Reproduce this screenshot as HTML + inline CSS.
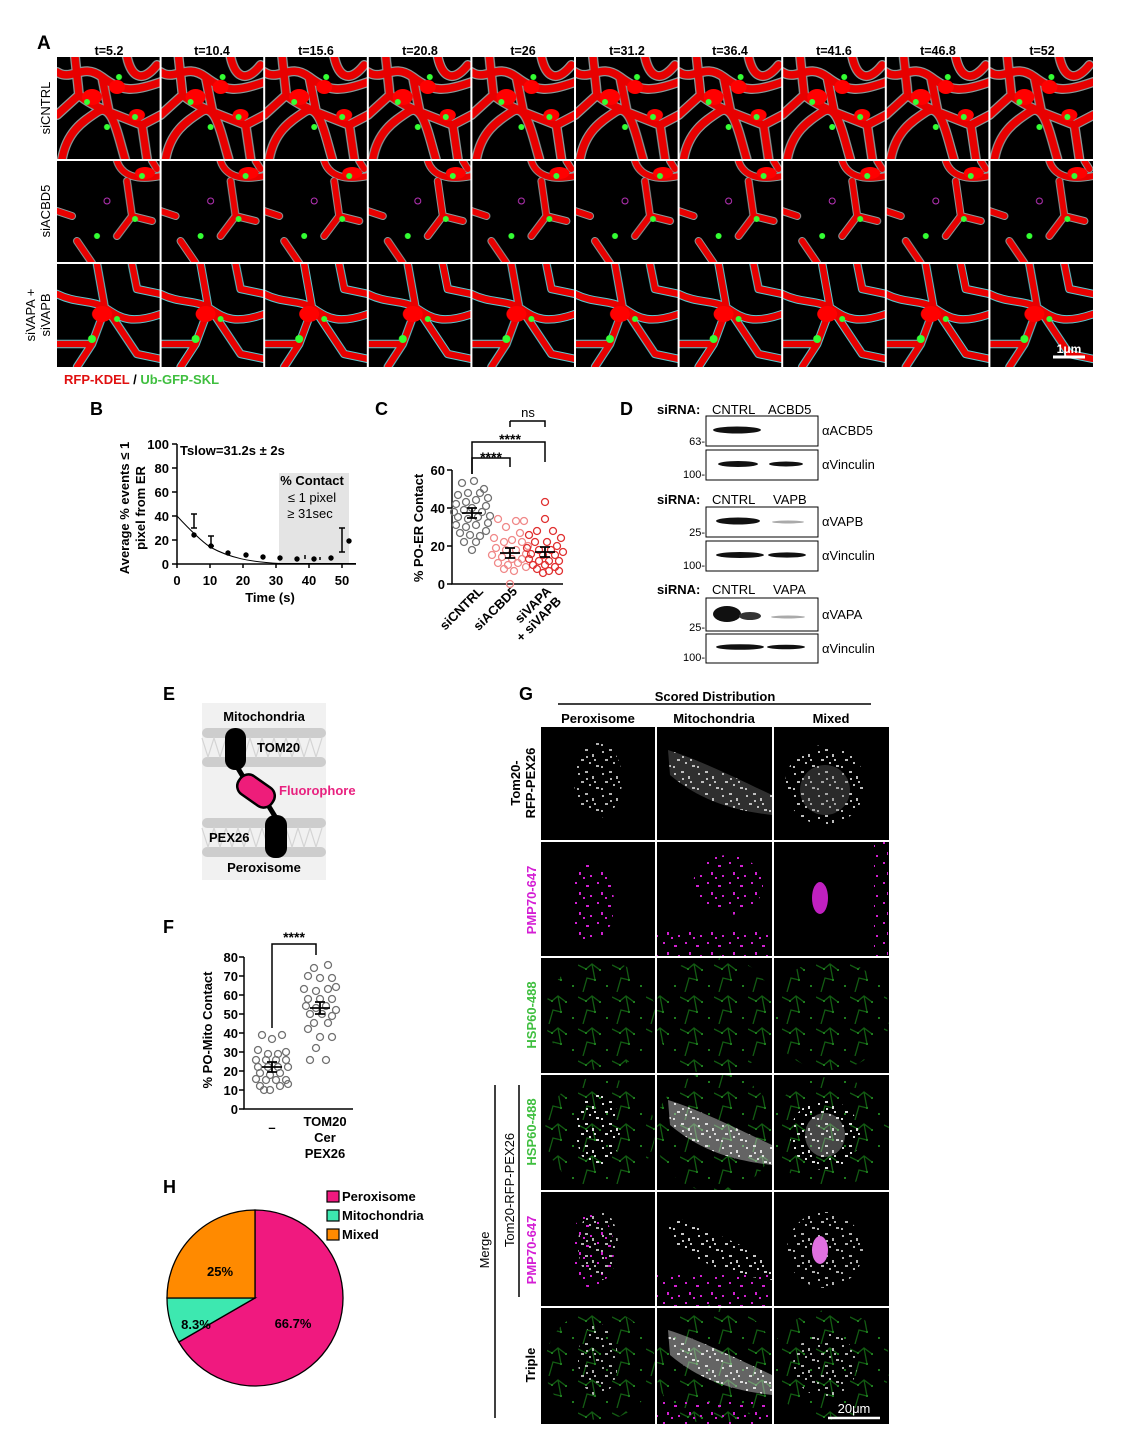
<!DOCTYPE html>
<html><head><meta charset="utf-8"><style>
html,body{margin:0;padding:0;background:#fff}
svg{display:block}
text{font-family:"Liberation Sans",Arial,sans-serif}
.b{font-weight:bold}
</style></head><body>
<svg width="1133" height="1444" viewBox="0 0 1133 1444" xmlns="http://www.w3.org/2000/svg">
<defs>
<pattern id="a1" patternUnits="userSpaceOnUse" x="57" y="57" width="103.6" height="102">
<rect width="104" height="102" fill="#000"/>
<g fill="none" stroke-linecap="round" stroke-linejoin="round">
<path stroke="#8a9a9a" stroke-width="10" d="M0,15 C15,25 25,5 45,20 S75,35 104,25 M5,102 C10,75 25,65 40,55 S60,75 68,102 M45,20 L52,55 L85,68 L104,58 M18,0 L22,38 L0,58 M70,0 C74,18 84,28 100,8 M22,38 C30,45 40,50 52,55 M85,68 L90,102"/>
<path stroke="#e80000" stroke-width="7.5" d="M0,15 C15,25 25,5 45,20 S75,35 104,25 M5,102 C10,75 25,65 40,55 S60,75 68,102 M45,20 L52,55 L85,68 L104,58 M18,0 L22,38 L0,58 M70,0 C74,18 84,28 100,8 M22,38 C30,45 40,50 52,55 M85,68 L90,102"/>
</g>
<g fill="#f00"><ellipse cx="35" cy="40" rx="10" ry="8"/><ellipse cx="60" cy="30" rx="8" ry="7"/><ellipse cx="80" cy="58" rx="8" ry="6"/></g>
<g fill="#3f3"><circle cx="30" cy="45" r="3"/><circle cx="62" cy="20" r="3"/><circle cx="78" cy="60" r="3"/><circle cx="50" cy="70" r="3"/></g>
</pattern>
<pattern id="a2" patternUnits="userSpaceOnUse" x="57" y="161" width="103.6" height="102">
<rect width="104" height="102" fill="#000"/>
<g fill="none" stroke-linecap="round" stroke-linejoin="round">
<path stroke="#8a9a9a" stroke-width="8" d="M60,0 C65,15 80,20 104,15 M70,20 L75,55 L60,75 M0,50 L15,55 M75,55 L95,60 M20,80 L35,102 M95,0 L100,8"/>
<path stroke="#e80000" stroke-width="6" d="M60,0 C65,15 80,20 104,15 M70,20 L75,55 L60,75 M0,50 L15,55 M75,55 L95,60 M20,80 L35,102 M95,0 L100,8"/>
</g>
<ellipse cx="88" cy="12" rx="10" ry="6" fill="#f00"/>
<g fill="#3f3"><circle cx="78" cy="58" r="3"/><circle cx="40" cy="75" r="3"/><circle cx="85" cy="15" r="3"/></g>
<circle cx="50" cy="40" r="3" fill="none" stroke="#b3b"/>
</pattern>
<pattern id="a3" patternUnits="userSpaceOnUse" x="57" y="264" width="103.6" height="103">
<rect width="104" height="103" fill="#000"/>
<g fill="none" stroke-linecap="round" stroke-linejoin="round">
<path stroke="#5cc8d0" stroke-width="8.5" d="M0,30 C20,40 35,35 50,45 S75,60 104,50 M40,0 L48,45 L35,80 L20,103 M50,45 L80,90 L104,95 M0,80 L35,80 M75,0 L80,25 L104,30"/>
<path stroke="#e80000" stroke-width="6.5" d="M0,30 C20,40 35,35 50,45 S75,60 104,50 M40,0 L48,45 L35,80 L20,103 M50,45 L80,90 L104,95 M0,80 L35,80 M75,0 L80,25 L104,30"/>
</g>
<ellipse cx="45" cy="50" rx="10" ry="8" fill="#f00"/>
<g fill="#3f3"><circle cx="35" cy="75" r="4"/><circle cx="60" cy="55" r="3"/></g>
</pattern>
<pattern id="pw" patternUnits="userSpaceOnUse" width="24" height="22">
<g fill="#ddd"><rect x="2" y="3" width="2" height="2"/><rect x="9" y="1" width="3" height="2"/><rect x="16" y="6" width="2" height="3"/><rect x="5" y="11" width="3" height="2"/><rect x="13" y="14" width="2" height="2"/><rect x="20" y="17" width="3" height="2"/><rect x="1" y="18" width="2" height="2"/><rect x="18" y="11" width="2" height="2"/><rect x="10" y="8" width="2" height="2"/></g>
</pattern>
<pattern id="pm" patternUnits="userSpaceOnUse" width="22" height="20">
<g fill="#d020d0"><rect x="3" y="2" width="2" height="2"/><rect x="14" y="5" width="3" height="2"/><rect x="7" y="12" width="2" height="3"/><rect x="18" y="15" width="2" height="2"/><rect x="11" y="17" width="2" height="2"/></g>
</pattern>
<pattern id="pg" patternUnits="userSpaceOnUse" width="34" height="32">
<path d="M0,5 L8,9 L14,4 L22,10 M5,32 L9,18 L17,20 M14,4 L17,20" stroke="#1f9a1f" stroke-width="1.3" fill="none"/>
<g fill="#3c3"><rect x="7" y="8" width="2" height="2"/><rect x="21" y="9" width="2" height="2"/><rect x="16" y="19" width="2" height="2"/><rect x="28" y="25" width="2" height="2"/></g>
</pattern>
<clipPath id="gc"><rect x="541" y="727" width="348" height="697"/></clipPath>
</defs>

<!-- Panel A -->
<text x="37" y="49" font-size="19" class="b">A</text>
<g font-size="12.5" class="b" text-anchor="middle">
<text x="109" y="55">t=5.2</text><text x="212" y="55">t=10.4</text><text x="316" y="55">t=15.6</text><text x="420" y="55">t=20.8</text><text x="523" y="55">t=26</text><text x="627" y="55">t=31.2</text><text x="730" y="55">t=36.4</text><text x="834" y="55">t=41.6</text><text x="938" y="55">t=46.8</text><text x="1042" y="55">t=52</text>
</g>
<rect x="57" y="57" width="1036" height="103" fill="url(#a1)"/>
<rect x="57" y="160" width="1036" height="103" fill="url(#a2)"/>
<rect x="57" y="263" width="1036" height="104" fill="url(#a3)"/>
<g stroke="#fff" stroke-width="2">
<path d="M160.6,57V367M264.2,57V367M367.8,57V367M471.4,57V367M575,57V367M678.6,57V367M782.2,57V367M885.8,57V367M989.4,57V367"/>
<path d="M57,160H1093M57,263H1093"/>
</g>
<g font-size="13" text-anchor="middle">
<text transform="translate(50,108) rotate(-90)">siCNTRL</text>
<text transform="translate(50,211) rotate(-90)">siACBD5</text>
<text transform="translate(35,315) rotate(-90)">siVAPA +</text>
<text transform="translate(50,315) rotate(-90)">siVAPB</text>
</g>
<path d="M1053,357H1085" stroke="#fff" stroke-width="3"/>
<text x="1069" y="353" font-size="12" fill="#fff" text-anchor="middle" class="b">1μm</text>
<text x="64" y="384" font-size="13" class="b"><tspan fill="#e01010">RFP-KDEL</tspan><tspan fill="#000"> / </tspan><tspan fill="#3fbf3f">Ub-GFP-SKL</tspan></text>

<!-- Panel B -->
<text x="90" y="415" font-size="18" class="b">B</text>
<rect x="279" y="473" width="70" height="91" fill="#e4e4e4"/>
<g stroke="#000" stroke-width="1.5" fill="none">
<path d="M177,444V564H356"/>
<path d="M172,444H177M172,468H177M172,492H177M172,516H177M172,540H177M172,564H177"/>
<path d="M177,564v4M210,564v4M243,564v4M276,564v4M309,564v4M342,564v4"/>
<path d="M177,516 C190,530 200,540 210,547 C230,558 250,562 280,563.5 L356,563.5" stroke-width="1"/>
<path d="M194,528v-14M191,528h6M191,514h6 M211,546v-10M208,546h6M208,536h6 M228,555v-4M246,557v-4M305,559v-4M320,560v-3M342,552v-24M339,552h6M339,528h6"/>
</g>
<g fill="#000"><circle cx="194" cy="535" r="2.7"/><circle cx="211" cy="546" r="2.7"/><circle cx="228" cy="553" r="2.7"/><circle cx="246" cy="555" r="2.7"/><circle cx="263" cy="557" r="2.7"/><circle cx="280" cy="558" r="2.7"/><circle cx="297" cy="559" r="2.7"/><circle cx="314" cy="559" r="2.7"/><circle cx="331" cy="558" r="2.7"/><circle cx="349" cy="541" r="2.7"/></g>
<g font-size="13" class="b" text-anchor="end">
<text x="169" y="449">100</text><text x="169" y="473">80</text><text x="169" y="497">60</text><text x="169" y="521">40</text><text x="169" y="545">20</text><text x="169" y="569">0</text>
</g>
<g font-size="13" class="b" text-anchor="middle">
<text x="177" y="585">0</text><text x="210" y="585">10</text><text x="243" y="585">20</text><text x="276" y="585">30</text><text x="309" y="585">40</text><text x="342" y="585">50</text>
<text x="270" y="602">Time (s)</text>
<text transform="translate(129,508) rotate(-90)">Average % events ≤ 1</text>
<text transform="translate(145,508) rotate(-90)">pixel from ER</text>
</g>
<text x="180" y="455" font-size="13" class="b">Tslow=31.2s ± 2s</text>
<text x="312" y="485" font-size="13" class="b" text-anchor="middle">% Contact</text>
<text x="312" y="502" font-size="13" text-anchor="middle">≤ 1 pixel</text>
<text x="310" y="518" font-size="13" text-anchor="middle">≥ 31sec</text>

<!-- Panel C -->
<text x="375" y="415" font-size="18" class="b">C</text>
<g stroke="#000" stroke-width="1.5" fill="none">
<path d="M452,470V584H563"/>
<path d="M447,470H452M447,508H452M447,546H452M447,584H452"/>
<path d="M472,474V442H545V462"/>
<path d="M472,474V458H510V467"/>
<path d="M510,421H545V427M510,421V427"/>
</g>
<g font-size="13" class="b" text-anchor="end"><text x="445" y="475">60</text><text x="445" y="513">40</text><text x="445" y="551">20</text><text x="445" y="589">0</text></g>
<text transform="translate(423,528) rotate(-90)" font-size="13" class="b" text-anchor="middle">% PO-ER Contact</text>
<text x="510" y="444" font-size="14" class="b" text-anchor="middle">****</text>
<text x="491" y="462" font-size="14" class="b" text-anchor="middle">****</text>
<text x="528" y="417" font-size="13" text-anchor="middle">ns</text>
<g font-size="13" class="b" text-anchor="end">
<text transform="translate(484,592) rotate(-45)">siCNTRL</text>
<text transform="translate(518,592) rotate(-45)">siACBD5</text>
<text transform="translate(552,592) rotate(-45)">siVAPA</text>
<text transform="translate(562,602) rotate(-45)">+ siVAPB</text>
</g>
<g fill="none" stroke="#707070" stroke-width="1.3">
<circle cx="462" cy="483" r="3.5"/><circle cx="474" cy="481" r="3.5"/><circle cx="484" cy="489" r="3.5"/><circle cx="458" cy="495" r="3.5"/><circle cx="468" cy="493" r="3.5"/><circle cx="480" cy="493" r="3.5"/><circle cx="488" cy="498" r="3.5"/><circle cx="456" cy="504" r="3.5"/><circle cx="466" cy="502" r="3.5"/><circle cx="476" cy="500" r="3.5"/><circle cx="486" cy="506" r="3.5"/><circle cx="454" cy="512" r="3.5"/><circle cx="464" cy="510" r="3.5"/><circle cx="472" cy="508" r="3.5"/><circle cx="482" cy="512" r="3.5"/><circle cx="490" cy="516" r="3.5"/><circle cx="458" cy="517" r="3.5"/><circle cx="468" cy="519" r="3.5"/><circle cx="478" cy="517" r="3.5"/><circle cx="488" cy="523" r="3.5"/><circle cx="456" cy="525" r="3.5"/><circle cx="466" cy="527" r="3.5"/><circle cx="476" cy="525" r="3.5"/><circle cx="486" cy="531" r="3.5"/><circle cx="460" cy="533" r="3.5"/><circle cx="470" cy="535" r="3.5"/><circle cx="480" cy="536" r="3.5"/><circle cx="464" cy="542" r="3.5"/><circle cx="476" cy="542" r="3.5"/><circle cx="472" cy="550" r="3.5"/>
</g>
<g fill="none" stroke="#f08888" stroke-width="1.3">
<circle cx="498" cy="519" r="3.5"/><circle cx="516" cy="521" r="3.5"/><circle cx="524" cy="521" r="3.5"/><circle cx="506" cy="527" r="3.5"/><circle cx="520" cy="533" r="3.5"/><circle cx="494" cy="538" r="3.5"/><circle cx="504" cy="542" r="3.5"/><circle cx="512" cy="540" r="3.5"/><circle cx="522" cy="542" r="3.5"/><circle cx="528" cy="546" r="3.5"/><circle cx="496" cy="548" r="3.5"/><circle cx="506" cy="550" r="3.5"/><circle cx="516" cy="550" r="3.5"/><circle cx="526" cy="554" r="3.5"/><circle cx="492" cy="555" r="3.5"/><circle cx="502" cy="557" r="3.5"/><circle cx="512" cy="559" r="3.5"/><circle cx="522" cy="559" r="3.5"/><circle cx="498" cy="563" r="3.5"/><circle cx="508" cy="565" r="3.5"/><circle cx="518" cy="563" r="3.5"/><circle cx="526" cy="567" r="3.5"/><circle cx="504" cy="569" r="3.5"/><circle cx="514" cy="571" r="3.5"/><circle cx="510" cy="584" r="3.5"/>
</g>
<g fill="none" stroke="#e03030" stroke-width="1.3">
<circle cx="545" cy="502" r="3.5"/><circle cx="545" cy="519" r="3.5"/><circle cx="537" cy="531" r="3.5"/><circle cx="553" cy="531" r="3.5"/><circle cx="529" cy="535" r="3.5"/><circle cx="561" cy="538" r="3.5"/><circle cx="535" cy="542" r="3.5"/><circle cx="547" cy="542" r="3.5"/><circle cx="557" cy="546" r="3.5"/><circle cx="527" cy="548" r="3.5"/><circle cx="539" cy="550" r="3.5"/><circle cx="551" cy="550" r="3.5"/><circle cx="563" cy="552" r="3.5"/><circle cx="531" cy="554" r="3.5"/><circle cx="543" cy="555" r="3.5"/><circle cx="555" cy="555" r="3.5"/><circle cx="529" cy="559" r="3.5"/><circle cx="539" cy="561" r="3.5"/><circle cx="549" cy="561" r="3.5"/><circle cx="559" cy="561" r="3.5"/><circle cx="533" cy="565" r="3.5"/><circle cx="545" cy="565" r="3.5"/><circle cx="555" cy="567" r="3.5"/><circle cx="537" cy="569" r="3.5"/><circle cx="549" cy="571" r="3.5"/><circle cx="559" cy="571" r="3.5"/><circle cx="543" cy="573" r="3.5"/>
</g>
<g stroke="#000" stroke-width="1.8" fill="none">
<path d="M462,513H482M472,508V518M467,508h10M467,518h10"/>
<path d="M500,553H520M510,548V558M505,548h10M505,558h10"/>
<path d="M535,552H555M545,547V557M540,547h10M540,557h10"/>
</g>

<!-- Panel D -->
<text x="620" y="415" font-size="18" class="b">D</text>
<g font-size="13">
<text x="657" y="414" class="b">siRNA:</text><text x="712" y="414">CNTRL</text><text x="768" y="414">ACBD5</text>
<text x="657" y="504" class="b">siRNA:</text><text x="712" y="504">CNTRL</text><text x="773" y="504">VAPB</text>
<text x="657" y="594" class="b">siRNA:</text><text x="712" y="594">CNTRL</text><text x="773" y="594">VAPA</text>
</g>
<g fill="#fff" stroke="#000" stroke-width="1">
<rect x="706" y="416" width="112" height="30"/><rect x="706" y="450" width="112" height="30"/>
<rect x="706" y="507" width="112" height="30"/><rect x="706" y="541" width="112" height="30"/>
<rect x="706" y="598" width="112" height="33"/><rect x="706" y="634" width="112" height="29"/>
</g>
<g fill="#111">
<ellipse cx="737" cy="430" rx="24" ry="3.5"/>
<ellipse cx="738" cy="464" rx="20" ry="3"/><ellipse cx="786" cy="464" rx="17" ry="2.5"/>
<ellipse cx="738" cy="521" rx="22" ry="3.5"/><ellipse cx="788" cy="522" rx="16" ry="1.5" fill="#aaa"/>
<ellipse cx="740" cy="555" rx="24" ry="3"/><ellipse cx="787" cy="555" rx="19" ry="2.6"/>
<ellipse cx="727" cy="614" rx="14" ry="8"/><ellipse cx="750" cy="616" rx="11" ry="4" fill="#333"/><ellipse cx="788" cy="617" rx="17" ry="1.5" fill="#aaa"/>
<ellipse cx="740" cy="647" rx="24" ry="2.8"/><ellipse cx="786" cy="647" rx="19" ry="2.3"/>
</g>
<g font-size="13">
<text x="822" y="435">αACBD5</text><text x="822" y="469">αVinculin</text>
<text x="822" y="526">αVAPB</text><text x="822" y="560">αVinculin</text>
<text x="822" y="619">αVAPA</text><text x="822" y="653">αVinculin</text>
</g>
<g font-size="11" text-anchor="end">
<text x="705" y="445">63-</text><text x="705" y="478">100-</text>
<text x="705" y="536">25-</text><text x="705" y="569">100-</text>
<text x="705" y="631">25-</text><text x="705" y="661">100-</text>
</g>

<!-- Panel E -->
<text x="163" y="700" font-size="18" class="b">E</text>
<rect x="202" y="703" width="124" height="177" fill="#f1f1f1"/>
<g fill="#cdcdcd">
<rect x="202" y="728" width="124" height="10" rx="5"/><rect x="202" y="757" width="124" height="10" rx="5"/>
<rect x="202" y="818" width="124" height="10" rx="5"/><rect x="202" y="847" width="124" height="10" rx="5"/>
</g>
<g stroke="#d4d4d4" stroke-width="1.2" fill="none">
<path d="M202,738 l6,19 l6,-19 l6,19 l6,-19 l6,19 l6,-19 l6,19 l6,-19 l6,19 l6,-19 l6,19 l6,-19 l6,19 l6,-19 l6,19 l6,-19 l6,19 l6,-19 l6,19 l6,-19"/>
<path d="M202,828 l6,19 l6,-19 l6,19 l6,-19 l6,19 l6,-19 l6,19 l6,-19 l6,19 l6,-19 l6,19 l6,-19 l6,19 l6,-19 l6,19 l6,-19 l6,19 l6,-19 l6,19 l6,-19"/>
</g>
<path d="M236,765 L248,785 M265,800 L276,818" stroke="#000" stroke-width="5" fill="none"/>
<rect x="225" y="728" width="21" height="42" rx="10" fill="#000"/>
<rect x="265" y="815" width="22" height="43" rx="10" fill="#000"/>
<rect x="236" y="780" width="40" height="22" rx="10" fill="#ee1d7a" stroke="#000" stroke-width="2.5" transform="rotate(35 256 791)"/>
<g font-size="13" class="b">
<text x="264" y="721" text-anchor="middle">Mitochondria</text>
<text x="257" y="752">TOM20</text>
<text x="279" y="795" fill="#e8217f">Fluorophore</text>
<text x="209" y="842">PEX26</text>
<text x="264" y="872" text-anchor="middle">Peroxisome</text>
</g>

<!-- Panel F -->
<text x="163" y="933" font-size="18" class="b">F</text>
<g stroke="#000" stroke-width="1.5" fill="none">
<path d="M244,957V1109H353"/>
<path d="M239,957H244M239,976H244M239,995H244M239,1014H244M239,1033H244M239,1052H244M239,1071H244M239,1090H244M239,1109H244"/>
<path d="M272,1028V944H316V955"/>
</g>
<g font-size="13" class="b" text-anchor="end">
<text x="238" y="962">80</text><text x="238" y="981">70</text><text x="238" y="1000">60</text><text x="238" y="1019">50</text><text x="238" y="1038">40</text><text x="238" y="1057">30</text><text x="238" y="1076">20</text><text x="238" y="1095">10</text><text x="238" y="1114">0</text>
</g>
<text transform="translate(212,1030) rotate(-90)" font-size="13" class="b" text-anchor="middle">% PO-Mito Contact</text>
<text x="294" y="942" font-size="14" class="b" text-anchor="middle">****</text>
<g font-size="13" class="b" text-anchor="middle">
<text x="272" y="1132">–</text>
<text x="325" y="1126">TOM20</text><text x="325" y="1142">Cer</text><text x="325" y="1158">PEX26</text>
</g>
<g fill="none" stroke="#707070" stroke-width="1.3">
<circle cx="262" cy="1035" r="3.5"/><circle cx="272" cy="1039" r="3.5"/><circle cx="282" cy="1035" r="3.5"/><circle cx="258" cy="1050" r="3.5"/><circle cx="268" cy="1054" r="3.5"/><circle cx="278" cy="1054" r="3.5"/><circle cx="286" cy="1052" r="3.5"/><circle cx="256" cy="1060" r="3.5"/><circle cx="266" cy="1060" r="3.5"/><circle cx="276" cy="1060" r="3.5"/><circle cx="286" cy="1060" r="3.5"/><circle cx="258" cy="1067" r="3.5"/><circle cx="268" cy="1067" r="3.5"/><circle cx="278" cy="1067" r="3.5"/><circle cx="288" cy="1067" r="3.5"/><circle cx="260" cy="1073" r="3.5"/><circle cx="270" cy="1075" r="3.5"/><circle cx="280" cy="1073" r="3.5"/><circle cx="256" cy="1079" r="3.5"/><circle cx="266" cy="1080" r="3.5"/><circle cx="276" cy="1080" r="3.5"/><circle cx="286" cy="1080" r="3.5"/><circle cx="260" cy="1086" r="3.5"/><circle cx="270" cy="1090" r="3.5"/><circle cx="280" cy="1086" r="3.5"/><circle cx="288" cy="1084" r="3.5"/><circle cx="264" cy="1090" r="3.5"/>
<circle cx="314" cy="968" r="3.5"/><circle cx="328" cy="965" r="3.5"/><circle cx="308" cy="976" r="3.5"/><circle cx="320" cy="978" r="3.5"/><circle cx="332" cy="978" r="3.5"/><circle cx="304" cy="989" r="3.5"/><circle cx="316" cy="991" r="3.5"/><circle cx="328" cy="989" r="3.5"/><circle cx="336" cy="987" r="3.5"/><circle cx="308" cy="999" r="3.5"/><circle cx="320" cy="999" r="3.5"/><circle cx="332" cy="999" r="3.5"/><circle cx="306" cy="1006" r="3.5"/><circle cx="316" cy="1008" r="3.5"/><circle cx="326" cy="1006" r="3.5"/><circle cx="336" cy="1010" r="3.5"/><circle cx="310" cy="1014" r="3.5"/><circle cx="322" cy="1014" r="3.5"/><circle cx="332" cy="1016" r="3.5"/><circle cx="314" cy="1023" r="3.5"/><circle cx="328" cy="1023" r="3.5"/><circle cx="308" cy="1029" r="3.5"/><circle cx="320" cy="1037" r="3.5"/><circle cx="332" cy="1037" r="3.5"/><circle cx="316" cy="1048" r="3.5"/><circle cx="310" cy="1060" r="3.5"/><circle cx="326" cy="1060" r="3.5"/>
</g>
<g stroke="#000" stroke-width="1.8" fill="none">
<path d="M262,1067H282M272,1062V1072M267,1062h10M267,1072h10"/>
<path d="M310,1008H330M320,1002V1014M315,1002h10M315,1014h10"/>
</g>

<!-- Panel H -->
<text x="163" y="1193" font-size="18" class="b">H</text>
<g stroke="#000" stroke-width="1.3">
<path d="M255,1298 L255,1210 A88,88 0 1 1 178.8,1342 Z" fill="#f0197f"/>
<path d="M255,1298 L178.8,1342 A88,88 0 0 1 167,1298 Z" fill="#3de8b0"/>
<path d="M255,1298 L167,1298 A88,88 0 0 1 255,1210 Z" fill="#ff8a00"/>
</g>
<g font-size="13" class="b">
<text x="220" y="1276" text-anchor="middle">25%</text>
<text x="196" y="1329" text-anchor="middle">8.3%</text>
<text x="293" y="1328" text-anchor="middle">66.7%</text>
</g>
<g stroke="#000" stroke-width="1.2">
<rect x="327" y="1191" width="12" height="11" fill="#f0197f"/>
<rect x="327" y="1210" width="12" height="11" fill="#3de8b0"/>
<rect x="327" y="1229" width="12" height="11" fill="#ff8a00"/>
</g>
<g font-size="13" class="b"><text x="342" y="1201">Peroxisome</text><text x="342" y="1220">Mitochondria</text><text x="342" y="1239">Mixed</text></g>

<!-- Panel G -->
<text x="519" y="700" font-size="18" class="b">G</text>
<text x="715" y="701" font-size="13" class="b" text-anchor="middle">Scored Distribution</text>
<path d="M558,704H871" stroke="#000" stroke-width="1.5"/>
<g font-size="13" class="b" text-anchor="middle"><text x="598" y="723">Peroxisome</text><text x="714" y="723">Mitochondria</text><text x="831" y="723">Mixed</text></g>
<rect x="541" y="727" width="348" height="697" fill="#000"/>
<g clip-path="url(#gc)">
<ellipse cx="598" cy="780" rx="24" ry="38" fill="url(#pw)" opacity="0.8"/>
<path d="M668,750 C700,760 740,780 772,795 L772,815 C730,810 700,800 670,775 Z" fill="url(#pw)"/>
<path d="M668,750 C700,760 740,780 772,795 L772,815 C730,810 700,800 670,775 Z" fill="#888" opacity="0.35"/>
<ellipse cx="825" cy="785" rx="40" ry="40" fill="url(#pw)" opacity="0.85"/>
<ellipse cx="825" cy="790" rx="25" ry="25" fill="#777" opacity="0.35"/>
<ellipse cx="592" cy="903" rx="22" ry="40" fill="url(#pm)"/>
<rect x="657" y="930" width="115" height="26" fill="url(#pm)"/>
<ellipse cx="728" cy="885" rx="35" ry="30" fill="url(#pm)"/>
<ellipse cx="820" cy="898" rx="8" ry="16" fill="#c020c0"/>
<rect x="874" y="842" width="14" height="114" fill="url(#pm)"/>
<g opacity="0.6">
<ellipse cx="600" cy="1015" rx="55" ry="55" fill="url(#pg)"/>
<ellipse cx="715" cy="1015" rx="60" ry="60" fill="url(#pg)"/>
<ellipse cx="830" cy="1015" rx="60" ry="55" fill="url(#pg)"/>
<ellipse cx="600" cy="1132" rx="55" ry="55" fill="url(#pg)"/>
<ellipse cx="715" cy="1132" rx="60" ry="60" fill="url(#pg)"/>
<ellipse cx="830" cy="1132" rx="60" ry="55" fill="url(#pg)"/>
<ellipse cx="600" cy="1365" rx="55" ry="55" fill="url(#pg)"/>
<ellipse cx="715" cy="1365" rx="60" ry="60" fill="url(#pg)"/>
<ellipse cx="830" cy="1365" rx="60" ry="55" fill="url(#pg)"/>
</g>
<ellipse cx="598" cy="1130" rx="22" ry="38" fill="url(#pw)"/>
<path d="M668,1100 C700,1110 740,1130 772,1145 L772,1165 C730,1160 700,1150 670,1125 Z" fill="url(#pw)"/>
<path d="M668,1100 C700,1110 740,1130 772,1145 L772,1165 C730,1160 700,1150 670,1125 Z" fill="#ddd" opacity="0.45"/>
<ellipse cx="825" cy="1135" rx="35" ry="35" fill="url(#pw)"/>
<ellipse cx="825" cy="1135" rx="20" ry="22" fill="#ccc" opacity="0.35"/>
<ellipse cx="592" cy="1250" rx="22" ry="38" fill="url(#pm)"/>
<ellipse cx="598" cy="1245" rx="20" ry="36" fill="url(#pw)" opacity="0.8"/>
<rect x="657" y="1275" width="115" height="31" fill="url(#pm)"/>
<path d="M668,1215 C700,1225 740,1245 772,1260 L772,1280 C730,1275 700,1265 670,1240 Z" fill="url(#pw)" opacity="0.9"/>
<ellipse cx="825" cy="1250" rx="38" ry="38" fill="url(#pw)" opacity="0.8"/>
<ellipse cx="820" cy="1250" rx="8" ry="14" fill="#e070e0"/>
<ellipse cx="598" cy="1360" rx="20" ry="36" fill="url(#pw)" opacity="0.8"/>
<path d="M668,1330 C700,1340 740,1360 772,1375 L772,1395 C730,1390 700,1380 670,1355 Z" fill="url(#pw)"/>
<path d="M668,1330 C700,1340 740,1360 772,1375 L772,1395 C730,1390 700,1380 670,1355 Z" fill="#ddd" opacity="0.45"/>
<rect x="657" y="1400" width="115" height="24" fill="url(#pm)"/>
<ellipse cx="825" cy="1365" rx="32" ry="32" fill="url(#pw)" opacity="0.8"/>
</g>
<g stroke="#fff" stroke-width="2">
<path d="M656,727V1424M773,727V1424"/>
<path d="M541,841H889M541,957H889M541,1074H889M541,1191H889M541,1307H889"/>
</g>
<path d="M828,1418H880" stroke="#fff" stroke-width="2.5"/>
<text x="854" y="1413" font-size="13" fill="#fff" text-anchor="middle">20μm</text>
<g font-size="13" class="b" text-anchor="middle">
<text transform="translate(520,783) rotate(-90)">Tom20-</text>
<text transform="translate(535,783) rotate(-90)">RFP-PEX26</text>
<text transform="translate(536,900) rotate(-90)" fill="#d41ed4">PMP70-647</text>
<text transform="translate(536,1015) rotate(-90)" fill="#3fbf3f">HSP60-488</text>
<text transform="translate(536,1132) rotate(-90)" fill="#3fbf3f">HSP60-488</text>
<text transform="translate(536,1250) rotate(-90)" fill="#d41ed4">PMP70-647</text>
<text transform="translate(535,1365) rotate(-90)">Triple</text>
<text transform="translate(489,1250) rotate(-90)" font-weight="normal">Merge</text>
<text transform="translate(514,1190) rotate(-90)" font-weight="normal">Tom20-RFP-PEX26</text>
</g>
<path d="M495,1085V1418M519,1085V1297" stroke="#000" stroke-width="1.5"/>
</svg>
</body></html>
